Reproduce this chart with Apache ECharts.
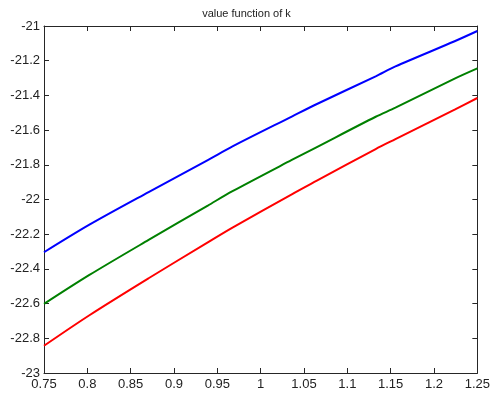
<!DOCTYPE html>
<html>
<head>
<meta charset="utf-8">
<script src="https://cdn.jsdelivr.net/npm/echarts@6/dist/echarts.min.js"></script>
<style>html,body{margin:0;padding:0;background:#fff;}#c{width:493px;height:396px;}</style>
</head>
<body>
<div id="c"></div>
<script>
const titleText = 'value function of k';
const kValues = [0.75, 0.8024, 0.8707, 0.939, 0.9675, 1.0359, 1.0643, 1.1327, 1.1555, 1.2238, 1.25];
const blueValues = [-22.304, -22.145, -21.957, -21.773, -21.694, -21.522, -21.451, -21.290, -21.233, -21.088, -21.029];
const greenValues = [-22.602, -22.435, -22.233, -22.035, -21.952, -21.772, -21.699, -21.523, -21.471, -21.303, -21.244];
const redValues = [-22.843, -22.667, -22.454, -22.247, -22.162, -21.970, -21.893, -21.709, -21.652, -21.482, -21.415];
const xTickLabels = ['0.75','0.8','0.85','0.9','0.95','1','1.05','1.1','1.15','1.2','1.25'];
const yTickLabels = ['-23','-22.8','-22.6','-22.4','-22.2','-22','-21.8','-21.6','-21.4','-21.2','-21'];

const zip = (xs, ys) => xs.map((x, i) => [x, ys[i]]);
const font = 'Liberation Sans, Arial, sans-serif';
const lineCol = '#262626';

const chart = echarts.init(document.getElementById('c'), null, {renderer: 'canvas'});
const baseX = {
  type: 'value', min: 0.75, max: 1.25, interval: 0.05,
  axisLine: {show: true, lineStyle: {color: lineCol, width: 1}},
  axisTick: {show: true, inside: true, length: 5, lineStyle: {color: lineCol}},
  splitLine: {show: false}
};
const baseY = {
  type: 'value', min: -23, max: -21, interval: 0.2,
  axisLine: {show: true, lineStyle: {color: lineCol, width: 1}},
  axisTick: {show: true, inside: true, length: 5, lineStyle: {color: lineCol}},
  splitLine: {show: false}
};
chart.setOption({
  backgroundColor: '#fff',
  animation: false,
  title: {text: titleText, left: 'center', top: 3,
    textStyle: {fontFamily: font, fontSize: 11, fontWeight: 'normal', color: '#222'}},
  grid: {left: 44, right: 10, top: 26, bottom: 23, containLabel: false},
  xAxis: [
    Object.assign({}, baseX, {position: 'bottom',
      axisLabel: {show: true, margin: 5, fontFamily: font, fontSize: 13, color: '#222',
        formatter: v => { const i = Math.round((v - 0.75) / 0.05); return xTickLabels[i] ?? ''; }}}),
    Object.assign({}, baseX, {position: 'top', axisLabel: {show: false}})
  ],
  yAxis: [
    Object.assign({}, baseY, {position: 'left',
      axisLabel: {show: true, margin: 4, fontFamily: font, fontSize: 13, color: '#222',
        formatter: v => { const i = Math.round((v + 23) / 0.2); return yTickLabels[i] ?? ''; }}}),
    Object.assign({}, baseY, {position: 'right', axisLabel: {show: false}})
  ],
  series: [
    {type: 'line', data: zip(kValues, blueValues), smooth: 0.3, showSymbol: false, lineStyle: {color: '#0000ff', width: 2}},
    {type: 'line', data: zip(kValues, greenValues), smooth: 0.3, showSymbol: false, lineStyle: {color: '#008000', width: 2}},
    {type: 'line', data: zip(kValues, redValues), smooth: 0.3, showSymbol: false, lineStyle: {color: '#ff0000', width: 2}}
  ]
});
</script>
</body>
</html>
